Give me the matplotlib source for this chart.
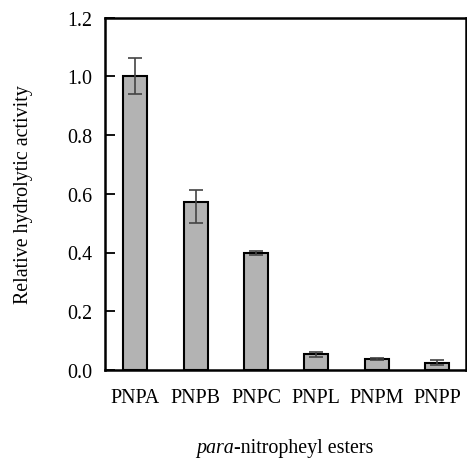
import matplotlib
matplotlib.use("Agg")
import matplotlib.pyplot as plt
import numpy as np
from matplotlib.offsetbox import TextArea, HPacker, AnchoredOffsetbox

categories = ["PNPA", "PNPB", "PNPC", "PNPL", "PNPM", "PNPP"]
values = [1.0, 0.573, 0.399, 0.053, 0.037, 0.025]
err_lower = [0.06, 0.074, 0.006, 0.008, 0.003, 0.008]
err_upper = [0.061, 0.040, 0.006, 0.008, 0.003, 0.008]
yticks = [0.0, 0.2, 0.4, 0.6, 0.8, 1.0, 1.2]

plt.rcParams['font.family'] = ['Liberation Serif', 'DejaVu Serif']
FS = 14.4

fig = plt.figure(figsize=(4.67, 4.64), dpi=100)
ax = fig.add_axes([105/467, 1-371/464, (465.5-105)/467, (371-18.5)/464])

x = np.arange(len(categories))
ax.bar(x, values, width=0.4, color='#b3b3b3', edgecolor='black', linewidth=1.5, zorder=2)
ax.errorbar(x, values, yerr=[err_lower, err_upper], fmt='none', ecolor='#444444',
            elinewidth=1.2, capsize=4.7, capthick=1.2, zorder=3)

ax.set_xlim(-0.5, 5.47)
ax.set_ylim(0, 1.2)
ax.set_yticks(yticks)
ax.set_yticklabels([f"{t:.1f}" for t in yticks])
ax.set_xticks(x)
ax.set_xticklabels(categories)

for s in ax.spines.values():
    s.set_linewidth(1.8)

ax.tick_params(axis='y', direction='in', length=7, width=1.3, labelsize=FS, pad=9)
ax.tick_params(axis='x', length=0, labelsize=FS, pad=13)

ax.set_ylabel("Relative hydrolytic activity", fontsize=FS, labelpad=25)

t1 = TextArea("para", textprops=dict(fontsize=FS, style='italic'))
t2 = TextArea("-nitropheyl esters", textprops=dict(fontsize=FS))
box = HPacker(children=[t1, t2], align='baseline', pad=0, sep=0)
ab = AnchoredOffsetbox(loc='center', child=box, frameon=False,
                       bbox_to_anchor=((105+465)/2/467, 1-449/464),
                       bbox_transform=fig.transFigure, borderpad=0, pad=0)
fig.add_artist(ab)

fig.savefig("out.png", dpi=100)
